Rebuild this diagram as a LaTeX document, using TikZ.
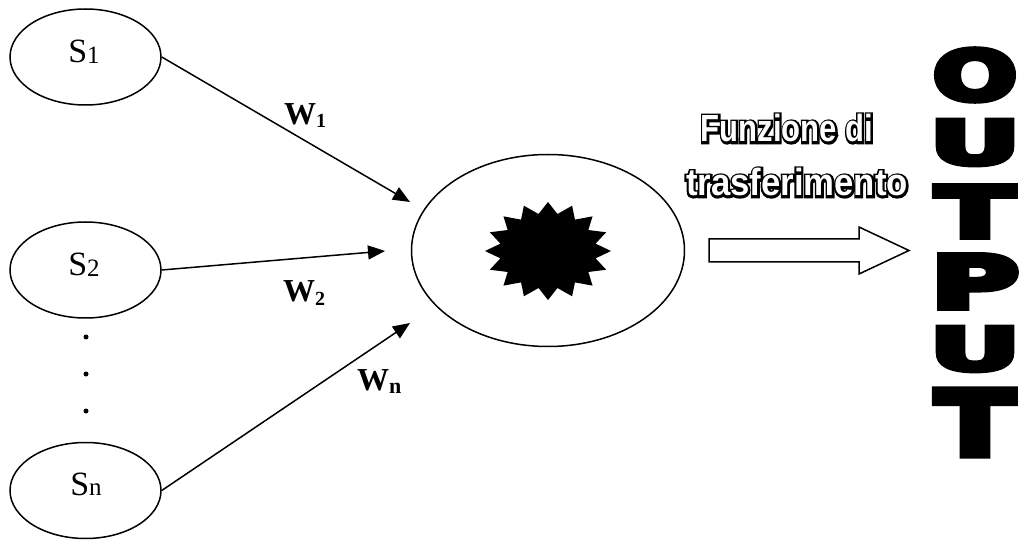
\documentclass[tikz,border=0pt]{standalone}
\usepackage{fontspec}
\usepackage{graphicx}
\usetikzlibrary{shapes.geometric,arrows.meta}
\setmainfont{Liberation Serif}
\newfontfamily\outlinesans{Liberation Sans}
\newfontfamily\rimsans{Liberation Sans}[FakeBold=12]
\newfontfamily\blocksans{DejaVu Sans}[FakeBold=8]

% lowered, smaller index: size, drop, text
\newcommand\lowidx[3]{{\fontsize{#1pt}{#1pt}\selectfont\raisebox{-#2pt}{#3}}}

% white letters with a black rim: a stroked black copy under a white one
\newcommand\hollowtext[1]{%
  \sbox0{#1}%
  \makebox[\wd0][l]{%
    \rlap{\rimsans\bfseries\color{black}#1}%
    \rlap{\color{white}#1}}}

% one heavy, stretched capital
\newcommand\blockletter[3]{\resizebox*{#1pt}{#2pt}{\blocksans\bfseries #3}}

\begin{document}
\begin{tikzpicture}[x=1pt,y=-1pt,
  unit/.style={draw, ellipse, line width=1.5pt, minimum width=151pt,
    minimum height=96pt, inner sep=0pt},
  slabel/.style={anchor=base, inner sep=0pt, font=\fontsize{34pt}{34pt}\selectfont},
  weight/.style={line width=1.5pt, -{Triangle[length=17pt,width=14pt]}},
  wlabel/.style={anchor=base west, inner sep=0pt,
    font=\bfseries\fontsize{32pt}{32pt}\selectfont},
  hollow/.style={anchor=base, inner sep=0pt,
    font=\outlinesans\bfseries\fontsize{31pt}{31pt}\selectfont},
  block/.style={inner sep=0pt},
  dot/.style={circle, fill, inner sep=0pt, minimum size=5pt},
]
\useasboundingbox (0,0) rectangle (1021,540);

% input units
\node[unit] (s1) at (85.5,57) {};
\node[unit] (s2) at (85.5,270) {};
\node[unit] (sn) at (85.5,490.5) {};
\node[slabel] (s1t) at (84,63) {S\lowidx{25}{0.5}{1}};
\node[slabel] (s2t) at (84,276) {S\lowidx{25}{0.5}{2}};
\node[slabel] (snt) at (86,495) {S\lowidx{25}{0.5}{n}};

% omitted inputs
\node[dot] (d1) at (86,337) {};
\node[dot] (d2) at (86,374) {};
\node[dot] (d3) at (86,411) {};

% summing unit with its activation
\node[draw, ellipse, line width=1.5pt, minimum width=273pt, minimum height=192pt,
  inner sep=0pt] (core) at (548,250.5) {};
\fill plot[domain=0:31, samples=32, variable=\k]
  ({548+63*ifthenelse(mod(\k,2)==0,1,0.77)*cos(90+11.25*\k)},
   {251-49*ifthenelse(mod(\k,2)==0,1,0.77)*sin(90+11.25*\k)}) -- cycle;

% weighted connections
\coordinate (t1) at (410,202);
\coordinate (t2) at (385,251);
\coordinate (tn) at (410,323);
\draw[weight] (s1.east) -- (t1);
\draw[weight] (s2.east) -- (t2);
\draw[weight] (sn.east) -- (tn);
\node[wlabel] (w1) at (284,125) {W\lowidx{20}{3}{1}};
\node[wlabel] (w2) at (283,302) {W\lowidx{20}{3}{2}};
\node[wlabel] (wn) at (357,390) {W\lowidx{22}{3}{n}};

% transfer function
\node[hollow] (f1) at (787,142) {\scalebox{1}[1.22]{\hollowtext{Funzione di}}};
\node[hollow] (f2) at (797,196) {\scalebox{1.12}[1.22]{\hollowtext{trasferimento}}};
\draw[line width=1.5pt, fill=white]
  (709,239) -- (859,239) -- (859,227) -- (909,250.5) -- (859,274)
  -- (859,262) -- (709,262) -- cycle;

% output, one letter above the other
\node[block] (o1) at (975,75)    {\blockletter{84}{52}{O}};
\node[block] (o2) at (975,142.5) {\blockletter{90}{45}{U}};
\node[block] (o3) at (975,211.5) {\blockletter{78}{51}{T}};
\node[block] (o4) at (975,281.5) {\blockletter{88}{53}{P}};
\node[block] (o5) at (975,349)   {\blockletter{90}{44}{U}};
\node[block] (o6) at (975,422.5) {\blockletter{78}{65}{T}};
\end{tikzpicture}
\end{document}
